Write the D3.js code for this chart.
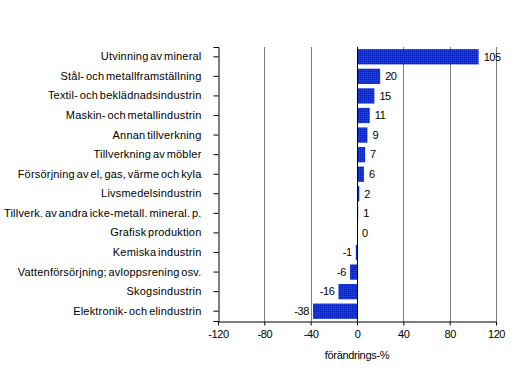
<!DOCTYPE html>
<html>
<head>
<meta charset="utf-8">
<script src="https://d3js.org/d3.v7.min.js"></script>
<style>
  body { margin: 0; background: #fff; }
  text { font-family: Arial, "Liberation Sans", sans-serif; font-size: 11px; fill: #000; }
  .cat { letter-spacing: 0.2px; word-spacing: -1.5px; }
</style>
</head>
<body>
<svg id="chart" width="525" height="375"></svg>
<script>
// branches, top to bottom
var categories = [
  "Utvinning av mineral",
  "Stål- och metallframställning",
  "Textil- och beklädnadsindustrin",
  "Maskin- och metallindustrin",
  "Annan tillverkning",
  "Tillverkning av möbler",
  "Försörjning av el, gas, värme och kyla",
  "Livsmedelsindustrin",
  "Tillverk. av andra icke-metall. mineral. p.",
  "Grafisk produktion",
  "Kemiska industrin",
  "Vattenförsörjning; avloppsrening osv.",
  "Skogsindustrin",
  "Elektronik- och elindustrin"
];
var values = [105, 20, 15, 11, 9, 7, 6, 2, 1, 0, -1, -6, -16, -38];
var xTicks = [-120, -80, -40, 0, 40, 80, 120];
var axisTitle = "förändrings-%";

var svg = d3.select("#chart");
var margin = {top: 47, left: 218, right: 29, bottom: 54};
var width = 525 - margin.left - margin.right,
    height = 375 - margin.top - margin.bottom;

var x = d3.scaleLinear().domain([-120, 120]).range([0, width]);
var y = d3.scaleBand().domain(categories).range([0, height]).paddingInner(0.22).paddingOuter(0.11);

// dotted blue fill like the original
var defs = svg.append("defs");
var pat = defs.append("pattern").attr("id", "dots")
    .attr("width", 2).attr("height", 2).attr("patternUnits", "userSpaceOnUse");
pat.append("rect").attr("width", 2).attr("height", 2).attr("fill", "#1c3ad8");
pat.append("rect").attr("width", 1).attr("height", 1).attr("fill", "#0a1c90");

var g = svg.append("g").attr("transform", "translate(" + margin.left + "," + margin.top + ")");

// grid
g.append("g").selectAll("line")
  .data(xTicks.filter(function(d) { return d !== -120 && d !== 0; }))
  .enter().append("line")
    .attr("x1", function(d) { return Math.round(x(d)) + 0.5; })
    .attr("x2", function(d) { return Math.round(x(d)) + 0.5; })
    .attr("y1", 0).attr("y2", height)
    .attr("stroke", "#808080");

// bars
g.append("g").selectAll("rect")
  .data(values)
  .enter().append("rect")
    .attr("x", function(d) { return x(Math.min(0, d)); })
    .attr("width", function(d) { return Math.abs(x(d) - x(0)); })
    .attr("y", function(d, i) { return y(categories[i]); })
    .attr("height", y.bandwidth())
    .attr("fill", "url(#dots)");

// value labels
g.append("g").selectAll("text")
  .data(values)
  .enter().append("text")
    .attr("x", function(d) { return d < 0 ? x(d) - 4 : x(d) + 5; })
    .attr("y", function(d, i) { return y(categories[i]) + y.bandwidth() / 2; })
    .attr("dy", "0.35em")
    .attr("text-anchor", function(d) { return d < 0 ? "end" : "start"; })
    .style("letter-spacing", "-0.4px")
    .text(function(d) { return d; });

// zero line
g.append("line")
  .attr("x1", Math.round(x(0)) + 0.5).attr("x2", Math.round(x(0)) + 0.5)
  .attr("y1", 0).attr("y2", height)
  .attr("stroke", "#000");

// left axis
var yAxis = g.append("g")
  .attr("transform", "translate(0.5,0)")
  .call(d3.axisLeft(y).tickSize(5).tickPadding(12));
yAxis.select(".domain").attr("stroke", "#000");
yAxis.selectAll("text").attr("class", "cat").style("font-size", "11px").style("font-family", "Arial, 'Liberation Sans', sans-serif");

// bottom axis
var xAxis = g.append("g")
  .attr("transform", "translate(0," + (height + 0.5) + ")")
  .call(d3.axisBottom(x).tickValues(xTicks).tickFormat(function(d) { return String(d); })
    .tickSize(4).tickPadding(5).tickSizeOuter(0));
xAxis.selectAll("text").style("font-size", "11px").style("letter-spacing", "-0.4px")
  .style("font-family", "Arial, 'Liberation Sans', sans-serif");

g.append("text")
  .attr("x", x(0))
  .attr("y", height + 38)
  .attr("text-anchor", "middle")
  .style("letter-spacing", "-0.3px")
  .text(axisTitle);
</script>
</body>
</html>
